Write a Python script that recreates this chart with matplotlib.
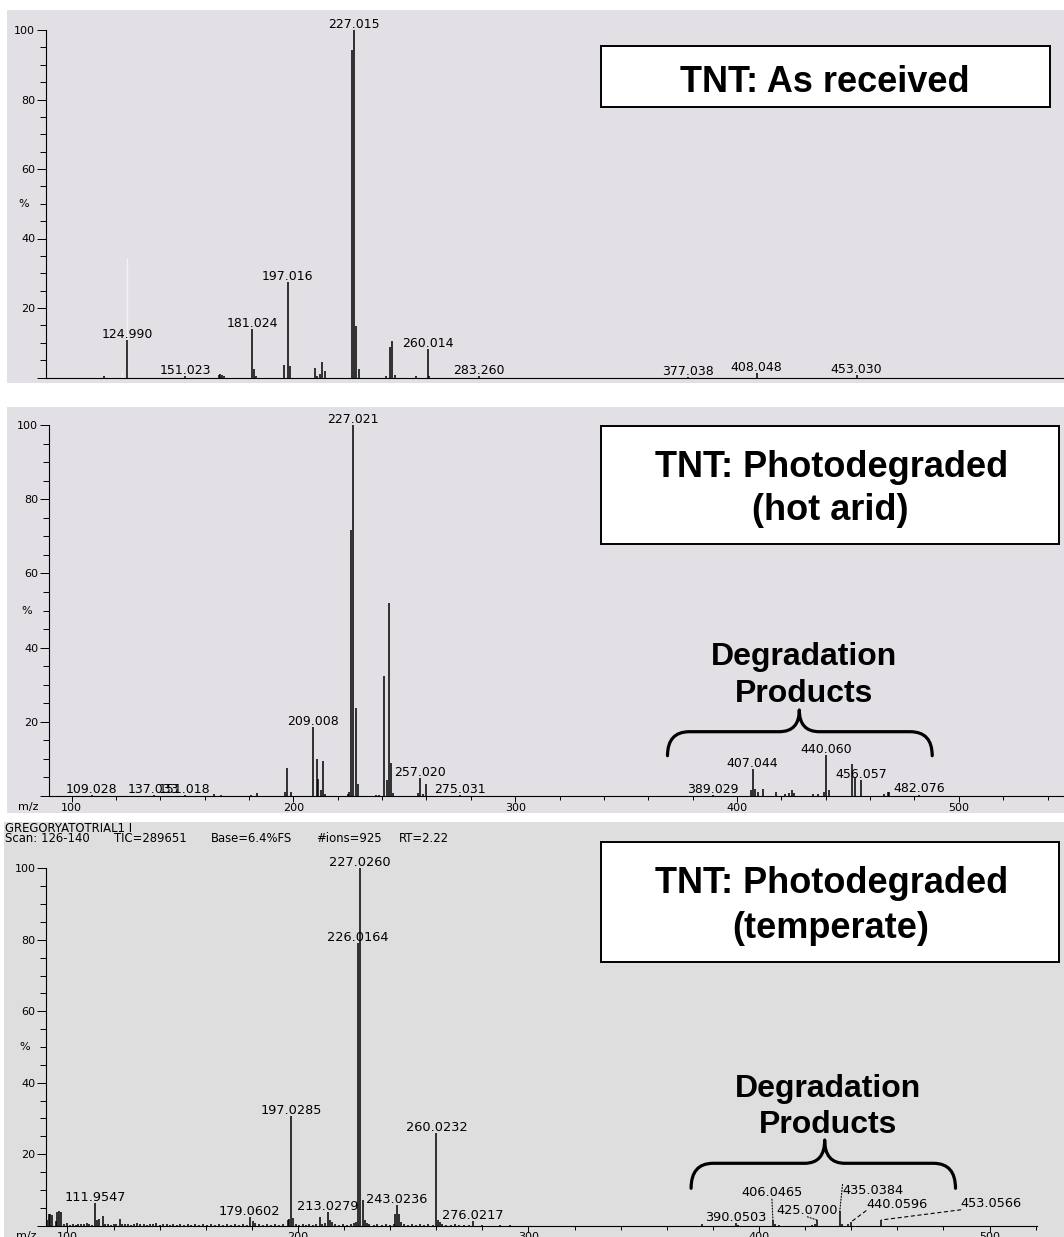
import re
import matplotlib
matplotlib.use("Agg")
import matplotlib.pyplot as plt
from matplotlib.patches import Rectangle, PathPatch
from matplotlib.path import Path
from matplotlib.ticker import MultipleLocator, FuncFormatter

# ---------------- data: TNT as received ----------------
p1_mz = [114.5, 124.99, 151.023, 166.0, 166.8, 167.5, 168.5, 181.024, 182.0, 182.8,
         195.3, 197.016, 198.1, 209.4, 210.5, 211.7, 212.5, 213.7, 226.0, 227.015,
         228.0, 229.0, 241.2, 243.0, 244.0, 245.2, 254.8, 260.014, 260.6, 283.26,
         377.038, 408.048, 453.03]
p1_int = [0.5, 10.8, 0.3, 0.6, 0.9, 0.8, 0.5, 13.9, 2.5, 0.5,
          3.6, 27.4, 3.2, 2.7, 0.5, 1.0, 4.5, 2.0, 94.2, 100.0,
          14.9, 2.4, 0.5, 8.9, 10.5, 0.8, 0.3, 8.1, 0.5, 0.3,
          0.2, 1.4, 0.6]
# faint ghost trace visible behind the 125 peak
p1_ghost_mz = [122.7, 124.6]
p1_ghost_int = [1.7, 34.3]
p1_labels = ["124.990", "151.023", "181.024", "197.016", "227.015", "260.014",
             "283.260", "377.038", "408.048", "453.030"]

# ---------------- data: photodegraded (hot arid) ----------------
p2_mz = [109.028, 137.033, 151.018, 164.3, 167.4, 181.1, 183.4, 196.3, 197.3, 198.9,
         209.008, 210.6, 211.3, 212.6, 213.3, 214.4, 224.5, 225.2, 226.0, 227.021,
         228.0, 229.0, 237.2, 238.5, 241.0, 242.0, 243.0, 244.0, 245.0, 256.4,
         257.020, 258.4, 260.0, 275.031, 389.029, 406.2, 407.044, 408.1, 409.3, 411.7,
         417.6, 421.8, 423.4, 425.0, 425.7, 434.4, 436.7, 439.0, 440.060, 441.4,
         452.0, 453.0, 456.057, 466.4, 468.0, 468.7, 482.076]
p2_int = [0.3, 0.3, 0.3, 0.5, 0.3, 0.4, 0.8, 1.0, 7.6, 1.0,
          18.5, 9.9, 4.5, 1.5, 9.4, 0.5, 0.5, 1.2, 71.8, 100.0,
          23.8, 3.1, 0.4, 0.4, 32.4, 4.3, 52.1, 8.8, 0.8, 0.8,
          4.9, 0.5, 3.1, 0.3, 0.3, 1.5, 7.2, 1.8, 1.2, 1.8,
          1.2, 0.5, 0.8, 1.5, 0.8, 0.5, 0.5, 1.0, 11.0, 1.5,
          8.5, 5.0, 4.3, 0.5, 1.0, 1.0, 0.4]
p2_labels = ["109.028", "137.033", "151.018", "209.008", "227.021", "257.020",
             "275.031", "389.029", "407.044", "440.060", "456.057", "482.076"]

# ---------------- data: photodegraded (temperate) ----------------
p3_mz = [91.2, 91.8, 92.6, 93.4, 95.0, 95.6, 96.3, 97.0,
         98.5, 99.6, 101.0, 102.2, 103.5, 104.6, 105.8, 107.0, 108.3, 109.5, 110.6,
         111.9547, 113.0, 113.8, 115.3, 116.5, 117.5, 118.8, 120.0, 121.2, 122.7, 123.8,
         125.0, 126.4, 127.6, 129.0, 130.3, 131.5, 133.0, 134.4, 135.8, 137.2, 138.5, 140.0,
         141.4, 143.0, 144.5, 146.0, 147.6, 149.0, 150.6, 152.2, 153.8, 155.5, 157.2, 159.0,
         160.6, 162.4, 164.0, 165.8, 167.5, 169.2, 171.0, 172.8, 174.5, 176.2, 177.8,
         179.0602, 180.6, 181.4, 183.0, 184.8, 186.5, 188.2, 190.0, 191.8, 193.5, 195.5, 196.3,
         197.0285, 198.0, 199.0, 200.5, 202.0, 203.6, 205.0, 206.6, 208.0, 209.6, 210.5, 211.8,
         213.0279, 214.0, 214.8, 216.0, 217.8, 219.6, 221.4, 223.0, 224.4, 225.2,
         226.0164, 227.0260, 228.0, 229.0, 229.8, 231.0, 232.8, 234.5, 236.3, 238.0, 239.8, 241.5,
         242.1, 243.0236, 244.0, 244.8, 246.0, 247.6, 249.4, 251.2, 253.0, 254.8, 256.6, 258.4,
         260.0232, 260.8, 261.6, 262.6, 264.4, 266.2, 268.0, 270.0, 272.0, 274.0, 276.0217,
         280.0, 287.7, 292.0, 375.2, 390.0503, 391.0, 406.0465, 407.0, 408.5, 423.0, 424.2,
         425.0700, 435.0384, 436.2, 438.8, 440.0596, 453.0566]
p3_int = [1.6, 3.4, 3.2, 3.0, 1.2, 3.9, 4.1, 3.8,
          0.4, 0.8, 0.3, 0.5, 0.3, 0.5, 0.6, 0.4, 0.8, 0.5, 0.3,
          6.4, 1.6, 1.8, 2.8, 0.4, 0.6, 0.3, 0.5, 0.4, 2.0, 0.6,
          0.4, 0.6, 0.3, 0.5, 0.7, 0.4, 0.6, 0.3, 0.5, 0.4, 0.7, 0.3,
          0.5, 0.4, 0.3, 0.5, 0.3, 0.4, 0.3, 0.5, 0.3, 0.4, 0.3, 0.5,
          0.3, 0.4, 0.3, 0.4, 0.3, 0.5, 0.3, 0.4, 0.3, 0.4, 0.3,
          2.3, 1.3, 0.8, 0.4, 0.3, 0.4, 0.3, 0.4, 0.3, 0.4, 1.6, 2.0,
          30.8, 2.2, 0.6, 0.3, 0.4, 0.3, 0.4, 0.3, 0.4, 2.3, 0.6, 0.8,
          3.9, 1.6, 1.0, 0.4, 0.3, 0.4, 0.3, 0.5, 0.8, 1.0,
          79.2, 100.0, 7.2, 1.6, 0.8, 0.4, 0.3, 0.4, 0.3, 0.4, 0.3, 0.4,
          3.4, 5.8, 3.4, 1.0, 0.4, 0.3, 0.4, 0.3, 0.4, 0.3, 0.4, 0.3,
          25.9, 1.6, 1.0, 0.4, 0.3, 0.3, 0.4, 0.3, 0.3, 0.3, 1.3,
          0.2, 0.3, 0.3, 0.5, 0.8, 0.3, 1.6, 0.5, 0.3, 0.3, 0.5,
          1.6, 4.0, 0.5, 0.6, 1.1, 1.6]
p3_labels = ["111.9547", "179.0602", "197.0285", "213.0279", "226.0164", "227.0260",
             "243.0236", "260.0232", "276.0217", "390.0503"]
p3_leader_labels = ["406.0465", "425.0700", "435.0384", "440.0596", "453.0566"]
p3_header = ["GREGORYATOTRIAL1 I",
             "Scan: 126-140   TIC=289651   Base=6.4%FS   #ions=925   RT=2.22"]

titles = [["TNT: As received"],
          ["TNT: Photodegraded", "(hot arid)"],
          ["TNT: Photodegraded", "(temperate)"]]
bracket_text = ["Degradation", "Products"]

# ---------------- layout (pixels of the 1064x1237 canvas) ----------------
W, H = 1064, 1237
fig = plt.figure(figsize=(W / 100, H / 100), dpi=100)
fig.patch.set_facecolor("white")


def fx(x):
    return x / W


def fy(y):
    return 1 - y / H


def rect_px(x0, y0, x1, y1, **kw):
    r = Rectangle((fx(x0), fy(y1)), (x1 - x0) / W, (y1 - y0) / H,
                  transform=fig.transFigure, **kw)
    fig.add_artist(r)


def brace(x0, x1, xc, y_end, y_mid, y_tip, r=22, r2=20):
    pts = [(x0, y_end), (x0, y_mid), (x0 + r, y_mid), (xc - r2, y_mid),
           (xc, y_mid), (xc, y_tip), (xc, y_mid), (xc + r2, y_mid),
           (x1 - r, y_mid), (x1, y_mid), (x1, y_end)]
    codes = [Path.MOVETO, Path.CURVE3, Path.CURVE3, Path.LINETO,
             Path.CURVE3, Path.CURVE3, Path.CURVE3, Path.CURVE3,
             Path.LINETO, Path.CURVE3, Path.CURVE3]
    verts = [(fx(x), fy(y)) for x, y in pts]
    fig.add_artist(PathPatch(Path(verts, codes), fill=False, lw=2.3, color="black",
                             transform=fig.transFigure, capstyle="round",
                             joinstyle="round", zorder=6))


# gray screenshot panels
rect_px(7.3, 10, 1064, 382.7, facecolor="#e2e0e4", edgecolor="none", zorder=-10)
rect_px(7.3, 406.7, 1064, 812.7, facecolor="#e2e0e4", edgecolor="none", zorder=-10)
rect_px(4, 821.7, 1064, 1237, facecolor="#dedede", edgecolor="none", zorder=-10)

panels = [
    dict(box=(45.5, 30.0, 1064, 377.5), xlim=(88.15, 546.3), xticks=False),
    dict(box=(48.5, 425.0, 1064, 796.0), xlim=(89.6, 547.4), xticks=True),
    dict(box=(46.0, 868.3, 1037, 1225.7), xlim=(90.7, 520.6), xticks=True),
]

axes = []
for p in panels:
    l, t, r, b = p["box"]
    ax = fig.add_axes([fx(l), fy(b), (r - l) / W, (b - t) / H])
    ax.patch.set_visible(False)
    ax.set_xlim(*p["xlim"])
    ax.set_ylim(0, 100)
    for s in ("top", "right"):
        ax.spines[s].set_visible(False)
    for s in ("left", "bottom"):
        ax.spines[s].set_linewidth(0.8)
    ax.yaxis.set_major_locator(MultipleLocator(20))
    ax.yaxis.set_minor_locator(MultipleLocator(5))
    ax.yaxis.set_major_formatter(FuncFormatter(lambda v, pos: "" if v == 0 else f"{v:.0f}"))
    ax.tick_params(axis="y", which="major", length=6.5, width=0.7, pad=1, labelsize=8)
    ax.tick_params(axis="y", which="minor", length=4, width=0.7)
    if p["xticks"]:
        ax.xaxis.set_major_locator(MultipleLocator(100))
        ax.xaxis.set_minor_locator(MultipleLocator(20))
        ax.tick_params(axis="x", which="major", length=4.3, width=0.7, pad=0.5, labelsize=8)
        ax.tick_params(axis="x", which="minor", length=3, width=0.7)
        ax.annotate("m/z", xy=(0, 0), xycoords="axes fraction", xytext=(-14.4, -7.7),
                    textcoords="offset points", ha="center", va="center", fontsize=8,
                    annotation_clip=False)
    else:
        ax.set_xticks([])
    ax.annotate("%", xy=(0, 50), xycoords=("axes fraction", "data"), xytext=(-15.6, 0),
                textcoords="offset points", ha="center", va="center", fontsize=8,
                annotation_clip=False)
    axes.append(ax)

ax1, ax2, ax3 = axes


def label_peaks(ax, mz, inten, labels, size):
    for lab in labels:
        m = float(lab)
        near = [h for x, h in zip(mz, inten) if abs(x - m) < 0.6]
        h = max(near) if near else 0
        ax.annotate(lab, (m, h), xytext=(0, 1.5), textcoords="offset points",
                    ha="center", va="baseline", fontsize=size, annotation_clip=False)


# peaks
ax1.vlines(p1_ghost_mz, 0, p1_ghost_int, color="#f4f2f2", lw=1.0)
ax1.vlines(p1_mz, 0, p1_int, color="black", lw=1.1)
ax2.vlines(p2_mz, 0, p2_int, color="black", lw=1.1)
ax3.vlines(p3_mz, 0, p3_int, color="black", lw=1.1)

label_peaks(ax1, p1_mz, p1_int, p1_labels, 9)
label_peaks(ax2, p2_mz, p2_int, p2_labels, 9)
label_peaks(ax3, p3_mz, p3_int, p3_labels, 9.3)

# labels joined to their peaks by dotted / dashed leaders (text x in m/z, y in %)
leader_style = {
    "406.0465": (405.6, 8.25, (0.5, 0), ":"),
    "425.0700": (421.0, 3.33, (0.5, 0), ":"),
    "435.0384": (449.5, 8.73, (0, 1), ":"),
    "440.0596": (459.7, 5.0, (0, 0), (0, (3, 3))),
    "453.0566": (500.8, 5.29, (0, 0), (0, (3, 3))),
}
for lab in p3_leader_labels:
    m = float(lab)
    h = max(hh for x, hh in zip(p3_mz, p3_int) if abs(x - m) < 0.01)
    tx, ty, rel, ls = leader_style[lab]
    ax3.annotate(lab, xy=(m, h), xytext=(tx, ty), textcoords="data",
                 ha="center", va="baseline", fontsize=9.3, annotation_clip=False,
                 arrowprops=dict(arrowstyle="-", linestyle=ls, lw=0.8, color="black",
                                 shrinkA=0, shrinkB=0, patchA=None, relpos=rel))

# header of the third screenshot: the fields of the scan line sit at fixed columns
fig.text(fx(5.2), fy(832.4), p3_header[0], ha="left", va="baseline", fontsize=8.4)
field_x = [5.2, 113.6, 210.7, 316.1, 398.8]
for x, field in zip(field_x, re.split(r"\s{2,}", p3_header[1])):
    fig.text(fx(x), fy(841.6), field, ha="left", va="baseline", fontsize=8.4)

# title boxes
title_boxes = [(600.8, 45.7, 1049.8, 106.7), (600.8, 426, 1058.9, 544),
               (600.8, 842.3, 1058.9, 961.7)]
title_lines = [[(825, 91.7)], [(832, 476.7), (830, 520)], [(832, 893.3), (830.5, 938.3)]]
for box, lines, pos in zip(title_boxes, titles, title_lines):
    rect_px(*box, facecolor="white", edgecolor="black", lw=1.4, zorder=5)
    for txt, (x, y) in zip(lines, pos):
        fig.text(fx(x), fy(y), txt, ha="center", va="baseline", fontsize=26,
                 fontweight="bold", family="Liberation Sans", zorder=7)

# "Degradation Products" brackets
for (cx, y1, y2) in [(803.9, 665, 701.7), (827.8, 1096.7, 1133.3)]:
    fig.text(fx(cx), fy(y1), bracket_text[0], ha="center", va="baseline", fontsize=23,
             fontweight="bold", family="Liberation Sans", zorder=7)
    fig.text(fx(cx), fy(y2), bracket_text[1], ha="center", va="baseline", fontsize=23,
             fontweight="bold", family="Liberation Sans", zorder=7)
brace(667.5, 932.2, 799.3, 755.7, 731.7, 710)
brace(691.1, 955.5, 824.7, 1188.3, 1163.3, 1140)

fig.savefig("out.png", dpi=100)
